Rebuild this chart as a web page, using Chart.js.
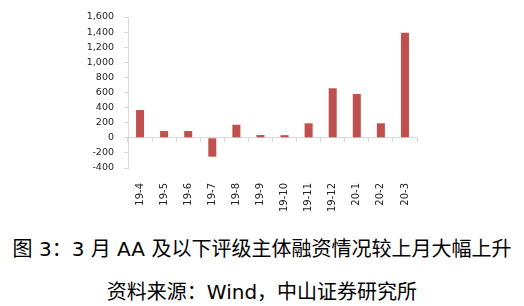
<!DOCTYPE html>
<html>
<head>
<meta charset="utf-8">
<script src="https://cdn.jsdelivr.net/npm/chart.js@4"></script>
<style>
  html, body { margin: 0; padding: 0; background: #fff; }
  body { width: 524px; height: 306px; position: relative; overflow: hidden; }
  #wrap { position: absolute; left: 0; top: 0; width: 524px; height: 215px; }
  .cap { position: absolute; left: 0; width: 524px; text-align: center;
         font-family: "DejaVu Sans", "Noto Sans CJK SC", sans-serif; font-size: 20px; color: #000;
         white-space: nowrap; line-height: 28px; }
  #cap1 { top: 235px; }
  #cap2 { top: 278px; }
</style>
</head>
<body>
<div id="wrap"><canvas id="c" width="524" height="215"></canvas></div>
<div class="cap" id="cap1">图 3：3 月 AA 及以下评级主体融资情况较上月大幅上升</div>
<div class="cap" id="cap2">资料来源：Wind，中山证券研究所</div>
<script>
const categories = ["19-4","19-5","19-6","19-7","19-8","19-9","19-10","19-11","19-12","20-1","20-2","20-3"];
const financing = [368, 90, 90, -250, 173, 37, 35, 192, 656, 580, 192, 1392];
const yTicks = [-400, -200, 0, 200, 400, 600, 800, 1000, 1200, 1400, 1600];

const axisGray = '#d9d9d9';
new Chart(document.getElementById('c'), {
  type: 'bar',
  data: {
    labels: categories,
    datasets: [{
      data: financing,
      backgroundColor: '#C0504D',
      borderWidth: 0,
      categoryPercentage: 1,
      barPercentage: 0.333
    }]
  },
  options: {
    responsive: false,
    animation: false,
    layout: { padding: { top: 17, right: 107, left: 0, bottom: 0 } },
    plugins: { legend: { display: false }, tooltip: { enabled: false } },
    scales: {
      x: {
        type: 'category',
        position: 'bottom',
        offset: true,
        grid: { display: false, offset: true },
        border: { display: false },
        ticks: { minRotation: 90, maxRotation: 90, padding: 7, color: '#222', autoSkip: false,
                 font: { family: 'DejaVu Sans', size: 10 } },
        afterFit: s => { s.height = 47; }
      },
      x2: {
        type: 'category',
        position: { y: 0 },
        offset: true,
        grid: { offset: true, drawOnChartArea: false, drawTicks: true, tickLength: 4, color: axisGray },
        border: { display: true, color: axisGray, width: 1 },
        ticks: { display: false }
      },
      y: {
        min: -400, max: 1600,
        afterBuildTicks: s => { s.ticks = yTicks.map(v => ({ value: v })); },
        grid: { drawOnChartArea: false, drawTicks: true, tickLength: 4, color: axisGray },
        border: { display: true, color: axisGray, width: 1 },
        ticks: { padding: 10, color: '#222', autoSkip: false,
                 font: { family: 'DejaVu Sans', size: 9.5 },
                 callback: v => v.toLocaleString('en-US') },
        afterFit: s => { s.width = 128; }
      }
    }
  }
});
</script>
</body>
</html>
